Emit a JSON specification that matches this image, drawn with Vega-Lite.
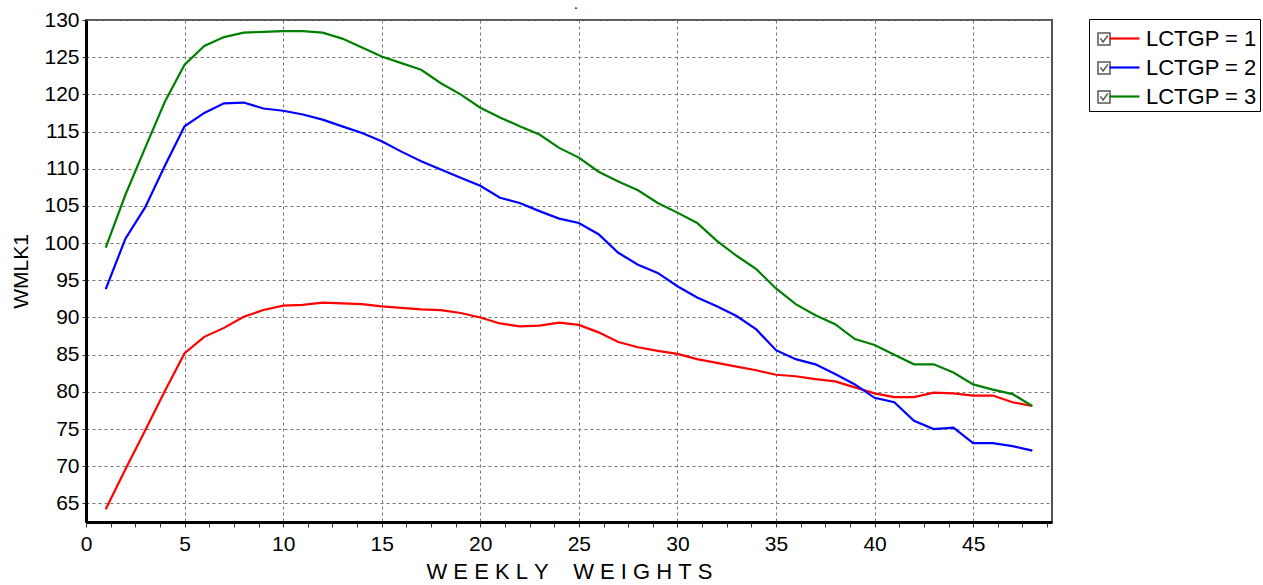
{
  "$schema": "https://vega.github.io/schema/vega-lite/v6.json",
  "width": 966,
  "height": 502,
  "autosize": "none",
  "padding": {"left": 86, "top": 20, "right": 211, "bottom": 63},
  "background": "white",
  "title": {"text": ".", "fontSize": 10, "fontWeight": "bold", "color": "black", "offset": -10, "frame": "group", "baseline": "alphabetic", "anchor": "middle", "dx": 7},
  "config": {
    "font": "Liberation Sans",
    "view": {"stroke": "#555555", "strokeWidth": 2}
  },
  "data": {
    "values": [
      {"w":1,"g":"1","v":64.2},{"w":2,"g":"1","v":69.6},{"w":3,"g":"1","v":74.8},{"w":4,"g":"1","v":80.1},{"w":5,"g":"1","v":85.2},{"w":6,"g":"1","v":87.4},{"w":7,"g":"1","v":88.6},{"w":8,"g":"1","v":90.1},{"w":9,"g":"1","v":91.0},{"w":10,"g":"1","v":91.6},{"w":11,"g":"1","v":91.7},{"w":12,"g":"1","v":92.0},{"w":13,"g":"1","v":91.9},{"w":14,"g":"1","v":91.8},{"w":15,"g":"1","v":91.5},{"w":16,"g":"1","v":91.3},{"w":17,"g":"1","v":91.1},{"w":18,"g":"1","v":91.0},{"w":19,"g":"1","v":90.6},{"w":20,"g":"1","v":90.0},{"w":21,"g":"1","v":89.2},{"w":22,"g":"1","v":88.8},{"w":23,"g":"1","v":88.9},{"w":24,"g":"1","v":89.3},{"w":25,"g":"1","v":89.0},{"w":26,"g":"1","v":88.0},{"w":27,"g":"1","v":86.7},{"w":28,"g":"1","v":86.0},{"w":29,"g":"1","v":85.5},{"w":30,"g":"1","v":85.1},{"w":31,"g":"1","v":84.4},{"w":32,"g":"1","v":83.9},{"w":33,"g":"1","v":83.4},{"w":34,"g":"1","v":82.9},{"w":35,"g":"1","v":82.3},{"w":36,"g":"1","v":82.1},{"w":37,"g":"1","v":81.7},{"w":38,"g":"1","v":81.4},{"w":39,"g":"1","v":80.6},{"w":40,"g":"1","v":79.8},{"w":41,"g":"1","v":79.3},{"w":42,"g":"1","v":79.3},{"w":43,"g":"1","v":79.9},{"w":44,"g":"1","v":79.8},{"w":45,"g":"1","v":79.5},{"w":46,"g":"1","v":79.5},{"w":47,"g":"1","v":78.6},{"w":48,"g":"1","v":78.1},
      {"w":1,"g":"2","v":93.8},{"w":2,"g":"2","v":100.6},{"w":3,"g":"2","v":104.8},{"w":4,"g":"2","v":110.4},{"w":5,"g":"2","v":115.7},{"w":6,"g":"2","v":117.5},{"w":7,"g":"2","v":118.8},{"w":8,"g":"2","v":118.9},{"w":9,"g":"2","v":118.1},{"w":10,"g":"2","v":117.8},{"w":11,"g":"2","v":117.3},{"w":12,"g":"2","v":116.6},{"w":13,"g":"2","v":115.7},{"w":14,"g":"2","v":114.8},{"w":15,"g":"2","v":113.7},{"w":16,"g":"2","v":112.3},{"w":17,"g":"2","v":111.0},{"w":18,"g":"2","v":109.9},{"w":19,"g":"2","v":108.8},{"w":20,"g":"2","v":107.7},{"w":21,"g":"2","v":106.1},{"w":22,"g":"2","v":105.4},{"w":23,"g":"2","v":104.3},{"w":24,"g":"2","v":103.3},{"w":25,"g":"2","v":102.7},{"w":26,"g":"2","v":101.2},{"w":27,"g":"2","v":98.7},{"w":28,"g":"2","v":97.1},{"w":29,"g":"2","v":96.0},{"w":30,"g":"2","v":94.2},{"w":31,"g":"2","v":92.7},{"w":32,"g":"2","v":91.5},{"w":33,"g":"2","v":90.2},{"w":34,"g":"2","v":88.4},{"w":35,"g":"2","v":85.6},{"w":36,"g":"2","v":84.4},{"w":37,"g":"2","v":83.7},{"w":38,"g":"2","v":82.4},{"w":39,"g":"2","v":81.0},{"w":40,"g":"2","v":79.2},{"w":41,"g":"2","v":78.6},{"w":42,"g":"2","v":76.1},{"w":43,"g":"2","v":75.0},{"w":44,"g":"2","v":75.2},{"w":45,"g":"2","v":73.1},{"w":46,"g":"2","v":73.1},{"w":47,"g":"2","v":72.7},{"w":48,"g":"2","v":72.1},
      {"w":1,"g":"3","v":99.4},{"w":2,"g":"3","v":106.5},{"w":3,"g":"3","v":112.8},{"w":4,"g":"3","v":119.0},{"w":5,"g":"3","v":124.0},{"w":6,"g":"3","v":126.5},{"w":7,"g":"3","v":127.7},{"w":8,"g":"3","v":128.3},{"w":9,"g":"3","v":128.4},{"w":10,"g":"3","v":128.5},{"w":11,"g":"3","v":128.5},{"w":12,"g":"3","v":128.3},{"w":13,"g":"3","v":127.5},{"w":14,"g":"3","v":126.3},{"w":15,"g":"3","v":125.1},{"w":16,"g":"3","v":124.2},{"w":17,"g":"3","v":123.3},{"w":18,"g":"3","v":121.5},{"w":19,"g":"3","v":120.0},{"w":20,"g":"3","v":118.2},{"w":21,"g":"3","v":116.9},{"w":22,"g":"3","v":115.7},{"w":23,"g":"3","v":114.6},{"w":24,"g":"3","v":112.8},{"w":25,"g":"3","v":111.5},{"w":26,"g":"3","v":109.6},{"w":27,"g":"3","v":108.3},{"w":28,"g":"3","v":107.1},{"w":29,"g":"3","v":105.4},{"w":30,"g":"3","v":104.1},{"w":31,"g":"3","v":102.7},{"w":32,"g":"3","v":100.3},{"w":33,"g":"3","v":98.3},{"w":34,"g":"3","v":96.5},{"w":35,"g":"3","v":93.9},{"w":36,"g":"3","v":91.8},{"w":37,"g":"3","v":90.3},{"w":38,"g":"3","v":89.1},{"w":39,"g":"3","v":87.1},{"w":40,"g":"3","v":86.3},{"w":41,"g":"3","v":85.0},{"w":42,"g":"3","v":83.7},{"w":43,"g":"3","v":83.7},{"w":44,"g":"3","v":82.6},{"w":45,"g":"3","v":81.0},{"w":46,"g":"3","v":80.3},{"w":47,"g":"3","v":79.7},{"w":48,"g":"3","v":78.1}
    ]
  },
  "encoding": {
    "x": {
      "field": "w", "type": "quantitative",
      "scale": {"domain": [0, 49], "nice": false, "zero": false},
      "axis": {
        "values": [0,1.25,2.5,3.75,5,6.25,7.5,8.75,10,11.25,12.5,13.75,15,16.25,17.5,18.75,20,21.25,22.5,23.75,25,26.25,27.5,28.75,30,31.25,32.5,33.75,35,36.25,37.5,38.75,40,41.25,42.5,43.75,45,46.25,47.5,48.75],
        "labelExpr": "datum.value % 5 == 0 ? datum.label : ''",
        "title": "W\u00a0E\u00a0E\u00a0K\u00a0L\u00a0Y\u00a0\u00a0\u00a0\u00a0W\u00a0E\u00a0I\u00a0G\u00a0H\u00a0T\u00a0S",
        "titleFont": "Liberation Sans", "titleFontSize": 22, "titleFontWeight": "normal", "titleColor": "black", "titlePadding": 7,
        "labelFont": "Liberation Sans", "labelFontSize": 21, "labelColor": "black", "labelPadding": 6, "labelFlush": false, "labelOverlap": false,
        "domainColor": "black", "domainWidth": 3,
        "tickColor": "#333333", "tickSize": 5, "tickWidth": 1,
        "grid": true, "gridDash": [3, 3], "gridColor": "#777777", "gridWidth": 1,
        "gridOpacity": {"condition": {"test": "datum.value % 5 == 0 && datum.value > 0", "value": 1}, "value": 0}
      }
    },
    "y": {
      "field": "v", "type": "quantitative",
      "scale": {"domain": [62.5, 130], "nice": false, "zero": false},
      "axis": {
        "values": [65,70,75,80,85,90,95,100,105,110,115,120,125,130],
        "title": "WMLK1",
        "titleFont": "Liberation Sans", "titleFontSize": 21, "titleFontWeight": "normal", "titleColor": "black", "titlePadding": 12,
        "labelFont": "Liberation Sans", "labelFontSize": 21, "labelColor": "black", "labelPadding": 3,
        "domainColor": "black", "domainWidth": 3,
        "tickColor": "#333333", "tickSize": 4, "tickWidth": 1,
        "grid": true, "gridDash": [3, 3], "gridColor": "#777777", "gridWidth": 1
      }
    }
  },
  "layer": [
    {
      "mark": {"type": "point", "size": 0, "color": "#555555", "strokeWidth": 1.5, "filled": false},
      "encoding": {
        "shape": {
          "field": "g", "type": "nominal",
          "scale": {"range": ["M-1,-1H1V1H-1Z M-0.6,-0.1 L-0.15,0.5 L0.65,-0.6"]},
          "legend": {
            "title": null,
            "orient": "none", "legendX": 1007, "legendY": 8,
            "labelExpr": "'\u00a0'",
            "symbolSize": 144, "symbolStrokeColor": "#555555", "symbolFillColor": "white", "symbolStrokeWidth": 1.5, "symbolOpacity": 1,
            "symbolOffset": 0, "labelOffset": 0,
            "labelFont": "Liberation Sans", "labelFontSize": 22, "rowPadding": 7, "padding": 0
          }
        }
      }
    },
    {
      "mark": {"type": "line", "strokeWidth": 2.2, "clip": true},
      "encoding": {
        "color": {
          "field": "g", "type": "nominal",
          "scale": {"domain": ["1","2","3"], "range": ["#ff0000", "#0000ff", "#008000"]},
          "legend": {
            "title": null,
            "orient": "none", "legendX": 1003, "legendY": -1,
            "labelExpr": "'LCTGP = ' + datum.label",
            "symbolType": "stroke", "symbolSize": 900, "symbolStrokeWidth": 2.2,
            "symbolOffset": 16,
            "labelFont": "Liberation Sans", "labelFontSize": 22, "labelColor": "black", "labelOffset": 5, "labelLimit": 300,
            "rowPadding": 1,
            "strokeColor": "black", "padding": 3
          }
        }
      }
    }
  ]
}
